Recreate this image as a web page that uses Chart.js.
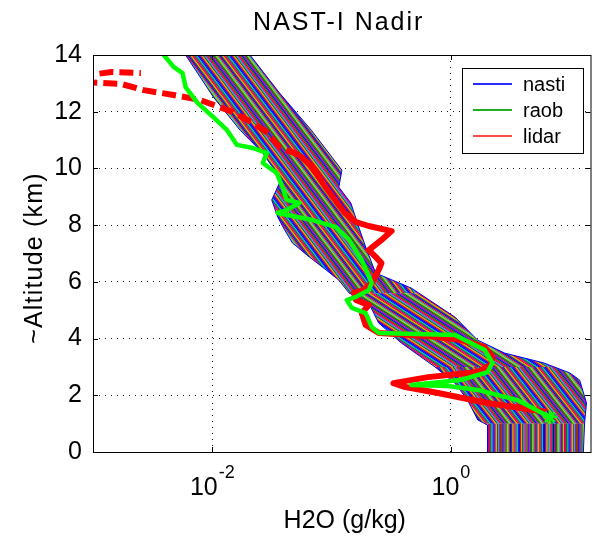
<!DOCTYPE html>
<html>
<head>
<meta charset="utf-8">
<title>NAST-I Nadir</title>
<script src="https://cdn.jsdelivr.net/npm/chart.js@4.4.1/dist/chart.umd.min.js"></script>
<style>
  html, body { margin: 0; padding: 0; background: #fff; overflow: hidden; }
  #wrap { width: 600px; height: 537px; }
</style>
</head>
<body>
<div id="wrap"><canvas id="profileChart" width="600" height="537"></canvas></div>
<script>
'use strict';

// ── DATA ─────────────────────────────────────────────────────────
// altitude in km, water vapour mixing ratio in g/kg
var ALT_TICKS = [0, 2, 4, 6, 8, 10, 12, 14];
var H2O_TICKS = [0.01, 1];
var H2O_TICK_EXP = ['-2', '0'];

// nasti retrievals: left and right bounds of the profile set
var NASTI_LEFT_ALT = [14.0, 12.52, 11.35, 10.54, 9.84, 9.49, 8.89, 8.29, 7.83, 7.37, 6.88, 6.42, 6.06, 5.61, 5.25, 4.55, 3.84, 3.00, 2.43, 1.83, 1.13, 0.95, 0];
var NASTI_LEFT_H2O = [0.00597, 0.0102, 0.0171, 0.0265, 0.0346, 0.0366, 0.0315, 0.0353, 0.0404, 0.0470, 0.0650, 0.0900, 0.115, 0.140, 0.205, 0.248, 0.385, 0.736, 1.08, 1.38, 1.68, 2.03, 2.03];
var NASTI_RIGHT_ALT = [14.0, 12.66, 11.35, 9.94, 9.34, 8.78, 7.93, 7.23, 6.31, 5.78, 4.76, 3.95, 3.49, 3.14, 2.79, 2.54, 1.73, 1.02, 0];
var NASTI_RIGHT_H2O = [0.0207, 0.0366, 0.0676, 0.122, 0.115, 0.145, 0.169, 0.193, 0.234, 0.466, 1.08, 1.67, 2.81, 6.02, 9.9, 12.0, 13.7, 13.2, 12.9];

// radiosonde
var RAOB_ALT = [14.0, 13.58, 13.36, 12.87, 12.31, 11.81, 11.35, 10.83, 10.72, 10.54, 10.19, 9.84, 9.34, 8.89, 8.78, 8.53, 8.43, 8.18, 7.93, 7.48, 6.77, 5.96, 5.71, 5.47, 5.36, 5.08, 4.90, 4.41, 4.20, 4.13, 3.60, 3.14, 2.82, 2.54, 2.36, 2.33, 2.19, 1.83, 1.23];
var RAOB_H2O = [0.00392, 0.00474, 0.00563, 0.00597, 0.00751, 0.0102, 0.0133, 0.0161, 0.0219, 0.0286, 0.0265, 0.0346, 0.0388, 0.0419, 0.0537, 0.0419, 0.0353, 0.0689, 0.109, 0.140, 0.179, 0.217, 0.205, 0.160, 0.134, 0.148, 0.193, 0.217, 0.248, 1.08, 1.92, 2.23, 2.03, 1.21, 0.466, 0.944, 1.68, 3.60, 6.76];

// lidar, from the lowest gate upward
var LIDAR_ALT = [1.41, 1.73, 2.08, 2.29, 2.43, 2.64, 2.82, 3.07, 3.35, 3.70, 3.95, 4.09, 4.20, 4.48, 4.90, 5.18, 5.36, 5.61, 5.71, 5.96, 6.42, 6.66, 6.88, 7.12, 7.48, 7.79, 7.97, 8.11, 8.46, 8.71, 9.41, 10.05, 10.47, 10.75, 11.28, 11.60, 11.99, 12.41, 12.59, 12.76, 12.98, 13.05, 13.26, 13.40, 13.36];
var LIDAR_H2O = [6.38, 2.03, 0.780, 0.415, 0.330, 0.644, 1.68, 2.15, 2.23, 1.92, 1.21, 0.644, 0.248, 0.193, 0.179, 0.205, 0.160, 0.154, 0.186, 0.217, 0.248, 0.262, 0.234, 0.205, 0.262, 0.318, 0.205, 0.160, 0.127, 0.115, 0.0867, 0.0689, 0.0537, 0.0366, 0.0286, 0.0219, 0.0149, 0.00795, 0.00474, 0.00267, 0.00172, 0.0008, 0.0008, 0.00143, 0.00252];
var LIDAR_DASH_ABOVE = 10.4;   // km, noisy gates drawn dashed

// ── STYLE ────────────────────────────────────────────────────────
var FONT = '"Liberation Sans", Arial, Helvetica, sans-serif';
var MATLAB_COLORS = ['#0000ff', '#008000', '#ff0000', '#00bfbf', '#bf00bf', '#bfbf00', '#404040'];
var HATCH_ORDER = [0, 3, 1, 4, 2, 5, 6, 0, 2, 3, 5, 1, 6, 4, 0, 1, 2, 4, 3, 6, 5, 2, 0];
var HATCH_STEP = 1.1;

// hatch direction inside the retrieval band, per altitude layer (deg below horizontal)
var BAND_LAYERS = [
  { top: 14.5, bottom: 5.6, angle: 53 },
  { top: 5.6,  bottom: 3.0, angle: 33 },
  { top: 3.0,  bottom: 1.0, angle: 52 },
  { top: 1.0,  bottom: -1,  angle: 90 }
];

var LEGEND_ITEMS = [
  { label: 'nasti', color: '#2a2aff' },
  { label: 'raob',  color: '#1fae1f' },
  { label: 'lidar', color: '#ff4a4a' }
];

function toPoints(xs, ys) {
  return xs.map(function (v, i) { return { x: v, y: ys[i] }; });
}

// ── PLUGINS ──────────────────────────────────────────────────────
function hatchBox(ctx, x0, y0, x1, y1, angle) {
  var rad = angle * Math.PI / 180;
  var dx = Math.cos(rad), dy = Math.sin(rad);
  var nx = -dy, ny = dx;
  var cx = (x0 + x1) / 2, cy = (y0 + y1) / 2;
  var half = Math.hypot(x1 - x0, y1 - y0) / 2 + 2;
  var k = 0;
  ctx.lineWidth = 1.3;
  for (var s = -half; s <= half; s += HATCH_STEP, k++) {
    var px = cx + nx * s, py = cy + ny * s;
    ctx.strokeStyle = MATLAB_COLORS[HATCH_ORDER[k % HATCH_ORDER.length]];
    ctx.beginPath();
    ctx.moveTo(px - dx * half, py - dy * half);
    ctx.lineTo(px + dx * half, py + dy * half);
    ctx.stroke();
  }
}

var bandFill = {
  id: 'bandFill',
  beforeDatasetsDraw: function (chart) {
    var left  = chart.getDatasetMeta(2).data;
    var right = chart.getDatasetMeta(3).data;
    var ctx   = chart.ctx;
    var area  = chart.chartArea;
    var yScale = chart.scales.y;

    ctx.save();
    ctx.beginPath();
    ctx.rect(area.left, area.top, area.right - area.left, area.bottom - area.top);
    ctx.clip();

    ctx.beginPath();
    left.forEach(function (p, i) { if (i) ctx.lineTo(p.x, p.y); else ctx.moveTo(p.x, p.y); });
    for (var i = right.length - 1; i >= 0; i--) ctx.lineTo(right[i].x, right[i].y);
    ctx.closePath();
    ctx.clip();

    BAND_LAYERS.forEach(function (layer) {
      var yTop = yScale.getPixelForValue(layer.top);
      var yBot = yScale.getPixelForValue(layer.bottom);
      ctx.save();
      ctx.beginPath();
      ctx.rect(area.left, yTop, area.right - area.left, yBot - yTop);
      ctx.clip();
      hatchBox(ctx, area.left, yTop, area.right, yBot, layer.angle);
      ctx.restore();
    });
    ctx.restore();
  }
};

var axesFrame = {
  id: 'axesFrame',
  afterDatasetsDraw: function (chart) {
    var ctx  = chart.ctx;
    var a    = chart.chartArea;
    var xs   = chart.scales.x;
    var ys   = chart.scales.y;
    var tick = 5;

    ctx.save();
    ctx.strokeStyle = '#000';
    ctx.lineWidth = 1;
    ctx.strokeRect(a.left + 0.5, a.top + 0.5, a.right - a.left, a.bottom - a.top);

    ctx.beginPath();
    ALT_TICKS.forEach(function (v) {
      var y = Math.round(ys.getPixelForValue(v)) + 0.5;
      ctx.moveTo(a.left, y);  ctx.lineTo(a.left + tick, y);
      ctx.moveTo(a.right, y); ctx.lineTo(a.right - tick, y);
    });
    H2O_TICKS.forEach(function (v) {
      var x = Math.round(xs.getPixelForValue(v)) + 0.5;
      ctx.moveTo(x, a.bottom); ctx.lineTo(x, a.bottom - tick);
      ctx.moveTo(x, a.top);    ctx.lineTo(x, a.top + tick);
    });
    ctx.stroke();
    ctx.restore();
  }
};

var labels = {
  id: 'labels',
  afterDraw: function (chart) {
    var ctx = chart.ctx;
    var a   = chart.chartArea;
    var xs  = chart.scales.x;

    ctx.save();
    ctx.fillStyle = '#000';

    // x tick labels as 10 with a raised exponent
    H2O_TICKS.forEach(function (v, i) {
      var x = xs.getPixelForValue(v);
      ctx.font = '25px ' + FONT;
      var wBase = ctx.measureText('10').width;
      ctx.font = '18px ' + FONT;
      var wExp = ctx.measureText(H2O_TICK_EXP[i]).width;
      var x0 = x - (wBase + 1 + wExp) / 2;
      ctx.textAlign = 'left';
      ctx.textBaseline = 'alphabetic';
      ctx.font = '25px ' + FONT;
      ctx.fillText('10', x0, 495);
      ctx.font = '18px ' + FONT;
      ctx.fillText(H2O_TICK_EXP[i], x0 + wBase + 1, 478);
    });

    // title
    ctx.textAlign = 'center';
    ctx.font = '25px ' + FONT;
    ctx.letterSpacing = '2px';
    ctx.fillText('NAST-I Nadir', (a.left + a.right) / 2 - 3, 30);

    // x axis title
    ctx.letterSpacing = '0px';
    ctx.fillText('H2O (g/kg)', (a.left + a.right) / 2 + 3, 528);

    // y axis title
    ctx.save();
    ctx.translate(42, 258);
    ctx.rotate(-Math.PI / 2);
    ctx.letterSpacing = '1.2px';
    ctx.fillText('~Altitude (km)', 0, 0);
    ctx.restore();

    // legend
    var bx = 462, by = 68, bw = 121, bh = 85;
    ctx.fillStyle = '#fff';
    ctx.fillRect(bx, by, bw, bh);
    ctx.strokeStyle = '#000';
    ctx.lineWidth = 1;
    ctx.strokeRect(bx + 0.5, by + 0.5, bw, bh);
    ctx.font = '20px ' + FONT;
    ctx.textAlign = 'left';
    ctx.textBaseline = 'middle';
    LEGEND_ITEMS.forEach(function (item, i) {
      var y = by + 16 + i * 26;
      ctx.strokeStyle = item.color;
      ctx.lineWidth = 2;
      ctx.beginPath();
      ctx.moveTo(473, y);
      ctx.lineTo(512, y);
      ctx.stroke();
      ctx.fillStyle = '#000';
      ctx.fillText(item.label, 523, y + 1);
    });
    ctx.restore();
  }
};

// ── CHART ────────────────────────────────────────────────────────
var ctx = document.getElementById('profileChart').getContext('2d');

new Chart(ctx, {
  type: 'line',
  data: {
    datasets: [{
      label: 'raob',
      data: toPoints(RAOB_H2O, RAOB_ALT),
      borderColor: '#00ff00',
      borderWidth: 4.5,
      borderJoinStyle: 'round',
      borderCapStyle: 'round',
      pointStyle: 'star',
      pointBorderColor: '#00ff00',
      pointBackgroundColor: '#00ff00',
      pointBorderWidth: 2.5,
      pointRadius: function (c) { return c.dataIndex === RAOB_ALT.length - 1 ? 7 : 0; },
      tension: 0,
      order: 0
    }, {
      label: 'lidar',
      data: toPoints(LIDAR_H2O, LIDAR_ALT),
      borderColor: '#ff0000',
      borderWidth: 6,
      borderJoinStyle: 'round',
      pointRadius: 0,
      tension: 0,
      segment: {
        borderDash: function (c) { return c.p0.parsed.y >= LIDAR_DASH_ABOVE ? [14, 6] : undefined; }
      },
      order: 1
    }, {
      label: 'nasti',
      data: toPoints(NASTI_LEFT_H2O, NASTI_LEFT_ALT),
      borderColor: '#0000ff',
      borderWidth: 1,
      pointRadius: 0,
      tension: 0,
      order: 2
    }, {
      label: 'nasti',
      data: toPoints(NASTI_RIGHT_H2O, NASTI_RIGHT_ALT),
      borderColor: '#0000ff',
      borderWidth: 1,
      pointRadius: 0,
      tension: 0,
      order: 3
    }]
  },
  options: {
    responsive: false,
    animation: false,
    devicePixelRatio: 1,
    layout: { padding: { top: 55, right: 6, left: 0, bottom: 0 } },
    plugins: {
      legend: { display: false },
      tooltip: { enabled: false },
      title: { display: false }
    },
    scales: {
      x: {
        type: 'logarithmic',
        min: 0.001,
        max: 14.8,
        afterBuildTicks: function (scale) {
          scale.ticks = H2O_TICKS.map(function (v) { return { value: v }; });
        },
        afterFit: function (scale) { scale.height = 85; },
        ticks: { display: false },
        grid: { color: '#1a1a1a', lineWidth: 1, drawTicks: false },
        border: { display: false, dash: [1, 5] }
      },
      y: {
        type: 'linear',
        min: 0,
        max: 14,
        afterBuildTicks: function (scale) {
          scale.ticks = ALT_TICKS.map(function (v) { return { value: v }; });
        },
        afterFit: function (scale) { scale.width = 93; },
        ticks: {
          padding: 11,
          color: '#000',
          font: { family: FONT, size: 25 }
        },
        grid: { color: '#1a1a1a', lineWidth: 1, drawTicks: false },
        border: { display: false, dash: [1, 5] }
      }
    }
  },
  plugins: [bandFill, axesFrame, labels]
});
</script>
</body>
</html>
